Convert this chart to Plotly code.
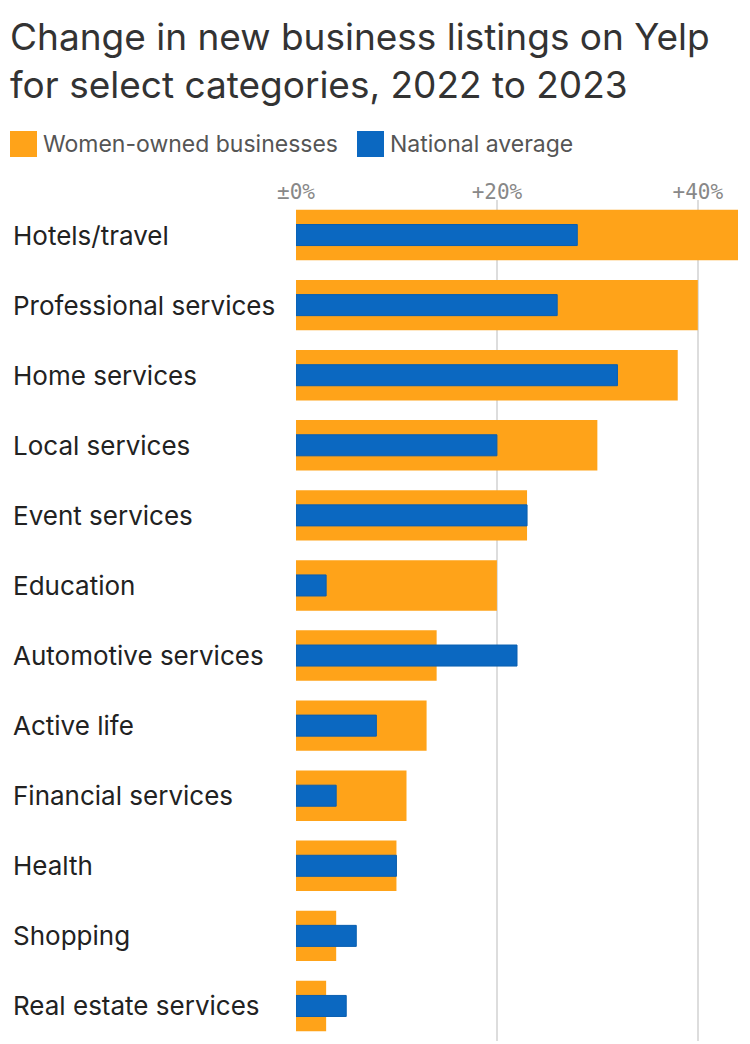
import plotly.graph_objects as go

categories = ["Hotels/travel", "Professional services", "Home services", "Local services",
              "Event services", "Education", "Automotive services", "Active life",
              "Financial services", "Health", "Shopping", "Real estate services"]
women_owned = [44, 40, 38, 30, 23, 20, 14, 13, 11, 10, 4, 3]
national_avg = [28, 26, 32, 20, 23, 3, 22, 8, 4, 10, 6, 5]
tick_vals = [0, 20, 40]
tick_text = ["±0%", "+20%", "+40%"]

ORANGE = "#ffa319"
BLUE = "#0b68c1"

fig = go.Figure()
fig.add_trace(go.Bar(y=categories, x=women_owned, orientation="h", name="Women-owned businesses",
                     marker=dict(color=ORANGE, line=dict(width=0)), width=0.72))
fig.add_trace(go.Bar(y=categories, x=national_avg, orientation="h", name="National average",
                     marker=dict(color=BLUE, line=dict(color="#0a5fb0", width=1)), width=0.3))

W, H = 750, 1044
ml, mr, mt, mb = 296, 12, 200, 3
pw = W - ml - mr
ph = H - mt - mb

annotations = []
for c in categories:
    annotations.append(dict(x=-(ml - 11) / pw, xref="paper", y=c, yref="y", text=c,
                            xanchor="left", yanchor="middle", showarrow=False,
                            font=dict(family="Inter", size=26, color="#222")))
annotations.append(dict(x=-(ml - 8) / pw, xref="paper", y=1 + (mt - 12) / ph, yref="paper",
                        text="Change in new business listings on Yelp<br>for select categories, 2022 to 2023",
                        xanchor="left", yanchor="top", align="left", showarrow=False,
                        font=dict(family="Inter", size=37, color="#333")))
# legend
shapes = []
legend_items = [("Women-owned businesses", ORANGE, 10), ("National average", BLUE, 357)]
for label, col, x0 in legend_items:
    y0 = 1 + (mt - 131) / ph
    y1 = 1 + (mt - 157) / ph
    shapes.append(dict(type="rect", xref="paper", yref="paper",
                       x0=(x0 - ml) / pw, x1=(x0 + 27 - ml) / pw, y0=y1, y1=y0,
                       fillcolor=col, line=dict(width=0)))
    annotations.append(dict(x=(x0 + 31 - ml) / pw, xref="paper", y=(y0 + y1) / 2, yref="paper",
                            text=label, xanchor="left", yanchor="middle", showarrow=False,
                            font=dict(family="Inter", size=23, color="#555")))

fig.update_layout(
    width=W, height=H,
    margin=dict(l=ml, r=mr, t=mt, b=mb),
    barmode="overlay",
    plot_bgcolor="white", paper_bgcolor="white",
    showlegend=False,
    annotations=annotations, shapes=shapes,
    xaxis=dict(range=[0, 44], side="top", tickvals=tick_vals, ticktext=tick_text,
               showgrid=True, gridcolor="#dddddd", gridwidth=1.5, zeroline=False,
               tickfont=dict(family="DejaVu Sans Mono", size=21, color="#888"),
               ticks="", ticklabelstandoff=-4, fixedrange=True),
    yaxis=dict(categoryorder="array", categoryarray=categories[::-1],
               showticklabels=False, showgrid=False, zeroline=False, ticks=""),
)
fig.write_html("out.html")
